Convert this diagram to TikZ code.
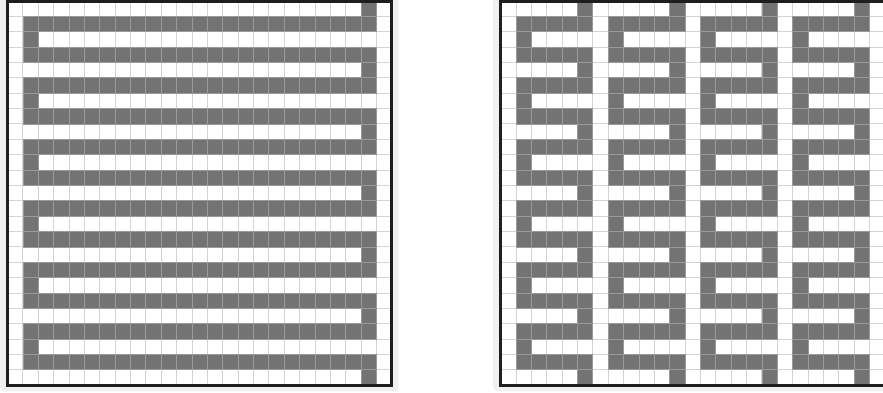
\documentclass[tikz,border=0pt]{standalone}
\usepackage{xcolor}
\usepackage{tikz}
\definecolor{cardgrey}{HTML}{EFF1F0}
\definecolor{cellgrey}{HTML}{737373}
\definecolor{celledge}{HTML}{9A9A9A}
\definecolor{gridline}{HTML}{D4D4D4}
\definecolor{frameblack}{HTML}{1E1E1E}

\begin{document}
\begin{tikzpicture}[x=0.4cm,y=0.4cm]
  \tikzstyle{card}=[fill=cardgrey, rounded corners=3.5pt]
  \tikzstyle{cell}=[fill=cellgrey, draw=celledge, line width=0.5pt]
  \tikzstyle{gridlines}=[draw=gridline, line width=0.6pt, step=0.4cm]
  \tikzstyle{frame}=[draw=frameblack, line width=2.4pt]

  \useasboundingbox (-0.488,-0.50) rectangle (56.96,25.06);

  % light cards behind both grids
  \fill[card] (-0.5,-0.4) rectangle (25.45,25.6);
  \fill[card] (31.6,-0.4) rectangle (57.6,25.6);

  % left: one long serpentine
  \begin{scope}
    \fill[white] (0,0) rectangle (25,25);
    \draw[gridlines] (0,0) grid (25,25);
    \foreach \r in {1,3,...,23}
      \foreach \c in {1,...,23}
        \draw[cell] (\c,{24-\r}) rectangle ++(1,1);
    \foreach \r in {0,4,...,24}
      \draw[cell] (23,{24-\r}) rectangle ++(1,1);
    \foreach \r in {2,6,...,22}
      \draw[cell] (1,{24-\r}) rectangle ++(1,1);
    \draw[frame] (0,0) rectangle (25,25);
  \end{scope}

  % right: four narrow serpentines
  \begin{scope}[shift={(32.08,0)}]
    \fill[white] (0,0) rectangle (25,25);
    \draw[gridlines] (0,0) grid (25,25);
    \foreach \b in {1,7,13,19} {
      \foreach \r in {1,3,...,23}
        \foreach \c in {0,...,4}
          \draw[cell] ({\b+\c},{24-\r}) rectangle ++(1,1);
      \foreach \r in {0,4,...,24}
        \draw[cell] ({\b+4},{24-\r}) rectangle ++(1,1);
      \foreach \r in {2,6,...,22}
        \draw[cell] (\b,{24-\r}) rectangle ++(1,1);
    }
    \draw[frame] (0,0) rectangle (25,25);
  \end{scope}
\end{tikzpicture}
\end{document}
